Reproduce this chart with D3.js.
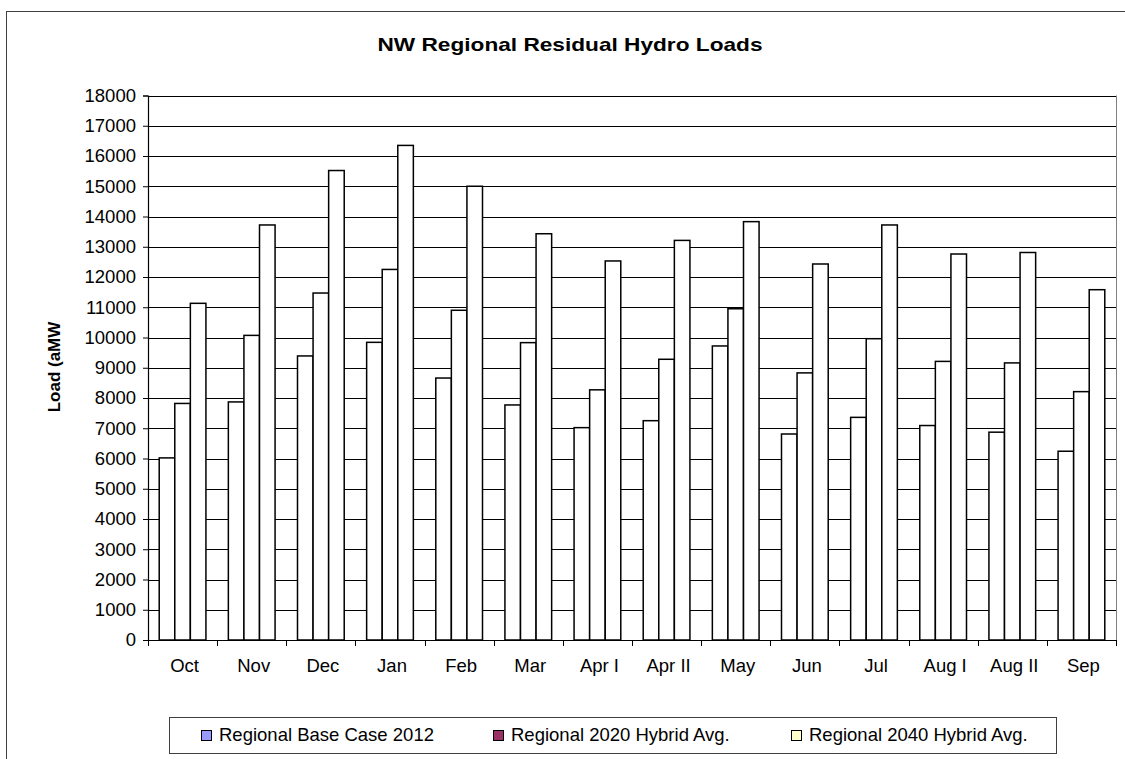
<!DOCTYPE html>
<html>
<head>
<meta charset="utf-8">
<script src="https://cdn.jsdelivr.net/npm/d3@7"></script>
<style>
  html, body { margin: 0; padding: 0; background: #fff; }
  svg { display: block; font-family: "Liberation Sans", Arial, sans-serif; }
</style>
</head>
<body>
<svg id="chart" width="1125" height="759"></svg>
<script>
const categories = ["Oct","Nov","Dec","Jan","Feb","Mar","Apr I","Apr II","May","Jun","Jul","Aug I","Aug II","Sep"];
const seriesNames = ["Regional Base Case 2012","Regional 2020 Hybrid Avg.","Regional 2040 Hybrid Avg."];
const base2012 = [6020, 7870, 9390, 9840, 8660, 7770, 7020, 7250, 9720, 6810, 7360, 7090, 6870, 6240];
const hybrid2020 = [7820, 10070, 11470, 12250, 10900, 9830, 8270, 9280, 10950, 8830, 9960, 9210, 9160, 8210];
const hybrid2040 = [11130, 13720, 15520, 16350, 15000, 13430, 12530, 13210, 13830, 12430, 13720, 12760, 12810, 11580];
const legendColors = ["#9999FF", "#993366", "#FFFFCC"];
const yTicks = d3.range(0, 18001, 1000);
const titleText = "NW Regional Residual Hydro Loads";
const yLabelText = "Load (aMW";

(function () {
const seriesValues = [base2012, hybrid2020, hybrid2040];
const svg = d3.select("#chart");

// outer chart border
svg.append("rect").attr("x", 6.5).attr("y", 11.5).attr("width", 1130).attr("height", 800)
  .attr("fill", "none").attr("stroke", "#404040").attr("stroke-width", 1);

const pLeft = 148, pRight = 1116, pTop = 95.5, pBottom = 640;
const x0 = d3.scaleBand().domain(categories).range([pLeft, pRight]).paddingInner(0).paddingOuter(0);
const x1 = d3.scaleBand().domain(seriesNames).range([0, x0.bandwidth()]).paddingInner(0).paddingOuter(0.72);
const y = d3.scaleLinear().domain([0, 18000]).range([pBottom, pTop]);

// gridlines
svg.append("g").selectAll("line").data(yTicks.filter(d => d > 0)).join("line")
  .attr("x1", pLeft).attr("x2", pRight)
  .attr("y1", d => Math.round(y(d)) + 0.5).attr("y2", d => Math.round(y(d)) + 0.5)
  .attr("stroke", "#000").attr("stroke-width", 1);

// right border of plot area
svg.append("line").attr("x1", pRight + 0.5).attr("x2", pRight + 0.5).attr("y1", pTop).attr("y2", pBottom)
  .attr("stroke", "#808080").attr("stroke-width", 1);

// bars
const rows = categories.map((c, i) => seriesNames.map((s, j) => ({ c, s, v: seriesValues[j][i] })));
svg.append("g").selectAll("g").data(rows).join("g")
  .attr("transform", d => `translate(${x0(d[0].c)},0)`)
  .selectAll("rect").data(d => d).join("rect")
  .attr("x", d => x1(d.s))
  .attr("y", d => y(d.v))
  .attr("width", x1.bandwidth())
  .attr("height", d => y(0) - y(d.v))
  .attr("fill", "#fff").attr("stroke", "#000").attr("stroke-width", 1.5);

// y axis
const yAxis = d3.axisLeft(y).tickValues(yTicks).tickSize(5).tickPadding(7).tickFormat(d3.format("d"));
const gy = svg.append("g").attr("transform", `translate(${pLeft},0)`).call(yAxis);
gy.select(".domain").attr("stroke", "#000").attr("stroke-width", 1.2);
gy.selectAll(".tick line").attr("stroke", "#000");
gy.selectAll(".tick text").attr("font-size", "18.5px").attr("fill", "#000")
  .attr("font-family", "Liberation Sans, Arial, sans-serif");

// x axis
const xAxis = d3.axisBottom(x0).tickSize(0).tickPadding(0);
const gx = svg.append("g").attr("transform", `translate(0,${pBottom})`).call(xAxis);
gx.select(".domain").attr("stroke", "#000").attr("stroke-width", 1.2);
gx.selectAll(".tick text").attr("font-size", "18.5px").attr("fill", "#000")
  .attr("font-family", "Liberation Sans, Arial, sans-serif")
  .attr("y", 32).attr("dy", 0).attr("dx", 2);
// tick marks at category boundaries
const bounds = categories.map(c => x0(c)).concat([pRight]);
gx.append("g").selectAll("line").data(bounds).join("line")
  .attr("x1", d => Math.round(d) + 0.5).attr("x2", d => Math.round(d) + 0.5)
  .attr("y1", 0).attr("y2", 6).attr("stroke", "#000");

// title
svg.append("text").attr("x", 570).attr("y", 51).attr("text-anchor", "middle")
  .attr("font-weight", "bold").attr("font-size", "19px")
  .attr("textLength", 385).attr("lengthAdjust", "spacingAndGlyphs")
  .text(titleText);

// y label
svg.append("text").attr("transform", "translate(60,367) rotate(-90)")
  .attr("text-anchor", "middle").attr("font-weight", "bold").attr("font-size", "17px")
  .text(yLabelText);

// legend
svg.append("rect").attr("x", 169.5).attr("y", 717.5).attr("width", 887).attr("height", 36)
  .attr("fill", "#fff").attr("stroke", "#404040").attr("stroke-width", 1);
const legendX = [201, 493, 791];
const lg = svg.append("g").selectAll("g").data(seriesNames).join("g")
  .attr("transform", (d, i) => `translate(${legendX[i]},0)`);
lg.append("rect").attr("x", 0.5).attr("y", 730.5).attr("width", 10).attr("height", 10)
  .attr("fill", (d, i) => legendColors[i]).attr("stroke", "#000").attr("stroke-width", 1);
lg.append("text").attr("x", 18).attr("y", 740.5).attr("font-size", "18.5px")
  .text(d => d);
})();
</script>
</body>
</html>
